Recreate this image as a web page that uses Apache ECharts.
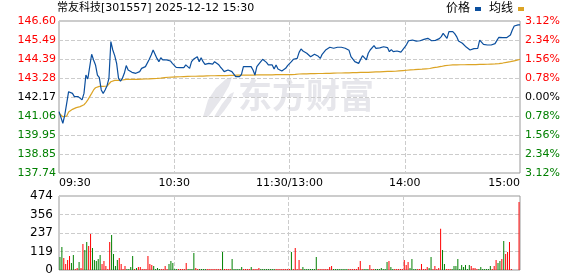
<!DOCTYPE html>
<html><head><meta charset="utf-8">
<script src="https://cdn.jsdelivr.net/npm/echarts@6/dist/echarts.min.js"></script>
<style>html,body{margin:0;padding:0;background:#fff}#c{width:578px;height:276px}</style>
</head><body><div id="c"></div>
<script>
const titleText = '常友科技[301557] 2025-12-12 15:30';
const xTickLabels = ['09:30', '10:30', '11:30/13:00', '14:00', '15:00'];
const priceTicks = [137.74, 138.85, 139.95, 141.06, 142.17, 143.28, 144.39, 145.49, 146.60];
const pctTicks = [-3.12, -2.34, -1.56, -0.78, 0.00, 0.78, 1.56, 2.34, 3.12];
const volTickMax = 474;

const price = [
141.32,141.41,140.64,141.12,141.80,142.48,142.58,142.38,142.19,142.19,
142.19,142.29,142.00,142.38,143.45,143.22,143.94,144.66,144.33,144.04,
143.45,143.30,142.58,142.38,142.58,142.83,143.26,145.40,144.91,144.58,
144.13,143.26,143.10,143.26,143.55,144.00,143.74,143.84,143.61,143.55,
143.55,143.55,143.65,143.84,143.88,143.94,144.04,144.37,144.62,144.91,
144.91,144.42,144.23,144.46,144.33,144.42,144.33,144.37,144.27,144.13,
144.04,143.90,143.88,143.88,143.88,143.88,144.04,144.07,143.84,144.23,
144.37,144.42,144.52,144.23,144.46,144.23,144.07,144.11,144.13,144.23,
144.09,144.23,144.31,144.07,143.92,143.80,143.65,143.61,143.74,143.80,
143.65,143.55,143.36,143.36,143.36,143.49,143.94,143.98,143.94,144.00,
143.94,143.74,143.45,143.94,144.09,144.19,144.37,144.37,144.19,144.04,
144.13,144.04,143.80,144.04,143.80,143.69,143.69,143.69,143.84,144.00,
144.09,
144.23,144.37,144.39,144.42,144.77,144.97,144.85,144.85,144.72,144.72,
144.52,144.62,144.66,144.60,144.54,144.42,144.66,144.77,144.93,145.01,
145.07,145.14,145.01,145.05,145.07,145.03,145.07,145.07,145.01,145.01,
144.89,144.52,144.48,144.23,144.13,144.13,144.23,144.58,144.52,144.33,
144.72,144.91,144.85,145.16,145.01,144.99,145.03,145.01,145.10,145.01,
145.05,144.81,144.93,144.81,144.85,144.85,144.81,144.79,144.93,145.07,
145.24,145.45,145.53,145.49,145.49,145.43,145.40,145.45,145.49,145.53,
145.53,145.59,145.55,145.45,145.38,145.47,145.53,145.57,145.69,145.88,
145.82,145.59,145.98,146.02,145.98,145.86,145.69,145.43,145.36,145.30,
145.20,145.08,144.99,144.91,144.89,144.99,145.01,145.01,145.49,145.43,
145.24,145.20,145.20,145.20,145.20,145.20,145.28,145.47,145.65,145.57,
145.63,145.55,145.63,145.63,145.78,146.08,146.31,146.37,146.37,146.37
];

const avgPrice = [
141.22,141.16,141.02,141.00,141.06,141.30,141.38,141.45,141.51,141.55,
141.59,141.61,141.65,141.72,141.84,142.00,142.19,142.38,142.58,142.71,
142.77,142.79,142.79,142.79,142.79,142.81,142.91,143.06,143.12,143.14,
143.14,143.14,143.16,143.16,143.18,143.20,143.20,143.20,143.20,143.20,
143.20,143.20,143.21,143.21,143.22,143.22,143.22,143.23,143.23,143.24,
143.24,143.25,143.26,143.27,143.28,143.30,143.31,143.32,143.33,143.33,
143.34,143.34,143.35,143.35,143.36,143.36,143.36,143.37,143.37,143.38,
143.38,143.38,143.38,143.39,143.39,143.39,143.40,143.40,143.40,143.41,
143.41,143.41,143.41,143.42,143.42,143.42,143.42,143.42,143.43,143.43,
143.43,143.43,143.44,143.44,143.44,143.45,143.45,143.45,143.45,143.45,
143.45,143.45,143.45,143.46,143.46,143.46,143.46,143.46,143.46,143.46,
143.46,143.46,143.47,143.47,143.47,143.47,143.47,143.47,143.47,143.47,
143.47,
143.48,143.49,143.49,143.50,143.51,143.51,143.52,143.52,143.52,143.53,
143.53,143.53,143.53,143.54,143.54,143.54,143.54,143.55,143.55,143.55,
143.55,143.56,143.56,143.56,143.57,143.57,143.57,143.57,143.58,143.58,
143.58,143.58,143.59,143.59,143.59,143.59,143.60,143.60,143.60,143.61,
143.61,143.61,143.62,143.62,143.63,143.63,143.64,143.64,143.65,143.65,
143.66,143.66,143.66,143.67,143.67,143.68,143.69,143.70,143.71,143.72,
143.73,143.74,143.75,143.75,143.76,143.77,143.78,143.79,143.79,143.80,
143.81,143.82,143.83,143.85,143.88,143.89,143.91,143.93,143.95,143.98,
144.00,144.01,144.02,144.03,144.04,144.04,144.04,144.05,144.05,144.05,
144.05,144.05,144.06,144.06,144.06,144.06,144.06,144.06,144.07,144.07,
144.07,144.07,144.08,144.08,144.09,144.09,144.10,144.11,144.12,144.13,
144.15,144.17,144.19,144.20,144.23,144.25,144.28,144.30,144.33,144.37
];

const volume = [
83,147,77,38,64,90,45,96,6,13,
51,13,167,128,179,154,231,141,64,58,
70,96,38,58,26,6,179,224,102,26,
64,77,38,6,26,6,6,19,90,6,
13,19,19,6,6,6,90,38,32,26,
6,13,6,6,6,26,6,38,58,45,
6,6,6,6,6,6,45,6,6,6,
109,13,6,6,6,6,6,6,6,6,
6,6,6,6,6,115,6,6,6,6,
70,6,6,6,6,19,6,6,6,6,
19,6,6,6,13,6,6,6,6,6,
6,6,6,6,6,6,6,6,6,6,
6,
115,6,141,6,64,6,19,6,6,6,
6,6,6,83,6,6,6,6,6,6,
19,26,6,6,6,6,6,6,6,6,
6,6,6,6,6,19,58,6,6,6,
6,32,6,6,6,6,6,13,6,6,
51,58,19,6,6,6,6,6,6,64,
32,51,13,70,6,6,6,6,38,6,
6,19,13,83,6,26,6,13,265,128,
38,6,6,6,6,26,26,70,6,32,
19,32,6,32,26,13,13,6,6,19,
6,6,6,6,26,6,26,64,45,58,
70,186,102,115,179,6,0,0,0,435
];

// 1 = up (red), -1 = down (green)
const volDir = [
-1,-1,1,1,1,1,-1,-1,1,1,
-1,1,1,-1,-1,1,1,-1,-1,-1,
-1,-1,1,1,1,1,1,-1,-1,-1,
-1,1,1,1,1,-1,-1,-1,-1,1,
-1,1,1,1,1,1,1,1,1,-1,
-1,-1,-1,1,1,1,1,-1,-1,-1,
-1,-1,1,1,1,1,1,-1,-1,-1,
-1,1,1,-1,-1,-1,-1,1,1,1,
1,1,1,1,1,-1,1,1,1,1,
-1,-1,-1,-1,-1,-1,1,1,1,1,
-1,1,1,1,1,-1,-1,-1,-1,-1,
-1,-1,-1,1,1,1,1,1,1,1,
1,
-1,1,1,1,1,1,-1,-1,-1,-1,
-1,-1,-1,-1,1,1,1,1,1,1,
1,1,-1,-1,-1,-1,-1,-1,-1,-1,
1,1,1,1,1,1,1,1,-1,-1,
-1,1,1,1,-1,-1,-1,-1,-1,-1,
-1,1,-1,-1,1,1,1,1,1,1,
1,1,-1,-1,-1,-1,1,1,1,1,
1,1,-1,-1,1,1,1,1,1,-1,
-1,1,1,1,-1,-1,-1,-1,-1,-1,
-1,-1,-1,-1,1,1,1,1,-1,-1,
-1,-1,-1,-1,-1,1,1,1,-1,-1,
1,-1,1,1,1,1,1,1,1,1
];

// minute categories 09:30..11:30, 13:01..15:00
const times = [];
function pad(n){return (n<10?'0':'')+n;}
for (let m = 9*60+30; m <= 11*60+30; m++) times.push(pad(Math.floor(m/60))+':'+pad(m%60));
for (let m = 13*60+1; m <= 15*60; m++) times.push(pad(Math.floor(m/60))+':'+pad(m%60));

const FONT = '"DejaVu Sans", "Noto Sans CJK SC", sans-serif';
const RED = '#ff0000', GREEN = '#008000';
const dash = {type: 'dashed', color: '#cccccc', width: 1};
const vSplit = i => i % 60 === 0 && i > 0 && i < times.length - 1;

const chart = echarts.init(document.getElementById('c'), null, {renderer: 'canvas'});
chart.setOption({
  animation: false,
  textStyle: {fontFamily: FONT},
  title: {text: titleText, left: 57, top: 3, padding: 0,
    textStyle: {fontSize: 11, fontWeight: 'normal', color: '#000', fontFamily: FONT}},
  legend: {data: ['价格', '均线'], right: 54, top: 3, padding: 0, align: 'right',
    icon: 'rect', itemWidth: 6, itemHeight: 4, itemGap: 8,
    textStyle: {fontSize: 12, color: '#000', fontFamily: FONT}},
  graphic: [
    {type: 'polygon', z: 0, silent: true,
      shape: {points: [[203,117],[208,100],[216,88],[226,79],[232,77],[229,86],[222,98],[214,109],[208,117]]},
      style: {fill: '#e6e6eb'}},
    {type: 'polygon', z: 0, silent: true,
      shape: {points: [[214,117],[222,104],[230,94],[234,92],[231,101],[224,111],[219,117]]},
      style: {fill: '#e6e6eb'}},
    {type: 'text', z: 0, silent: true, left: 238, top: 78,
      style: {text: '东方财富', fontSize: 34, fontWeight: 'bold', fill: '#e6e6eb',
        fontFamily: '"Noto Sans CJK SC", sans-serif'}}
  ],
  grid: [
    {left: 59, right: 58, top: 21, height: 152, show: true, borderColor: '#999', borderWidth: 1, backgroundColor: 'transparent'},
    {left: 59, right: 58, top: 196, height: 74, show: true, borderColor: '#999', borderWidth: 1, backgroundColor: 'transparent'}
  ],
  xAxis: [
    {type: 'category', gridIndex: 0, data: times, boundaryGap: false,
      axisLine: {show: false}, axisTick: {show: false},
      axisLabel: {interval: i => i % 60 === 0, formatter: (v, i) => xTickLabels[i / 60],
        alignMinLabel: 'left', alignMaxLabel: 'right',
        color: '#000', fontSize: 11, margin: 5, fontFamily: FONT},
      splitLine: {show: true, interval: vSplit, lineStyle: dash}},
    {type: 'category', gridIndex: 1, data: times, boundaryGap: true,
      axisLine: {show: false}, axisTick: {show: false}, axisLabel: {show: false},
      splitLine: {show: true, interval: vSplit, lineStyle: dash}}
  ],
  yAxis: [
    {type: 'value', gridIndex: 0, position: 'left', min: -4, max: 4, interval: 1,
      axisLine: {show: false}, axisTick: {show: false},
      axisLabel: {formatter: v => priceTicks[Math.round(v) + 4].toFixed(2), margin: 3,
        fontSize: 11, fontFamily: FONT,
        color: v => { v = Math.round(Number(v)); return v > 0 ? RED : (v < 0 ? GREEN : '#000'); }},
      splitLine: {show: true, lineStyle: dash}},
    {type: 'value', gridIndex: 0, position: 'right', min: -4, max: 4, interval: 1,
      axisLine: {show: false}, axisTick: {show: false},
      axisLabel: {formatter: v => Math.abs(pctTicks[Math.round(v) + 4]).toFixed(2) + '%', margin: 5,
        fontSize: 11, fontFamily: FONT,
        color: v => { v = Math.round(Number(v)); return v > 0 ? RED : (v < 0 ? GREEN : '#000'); }},
      splitLine: {show: false}},
    {type: 'value', gridIndex: 0, min: priceTicks[0], max: priceTicks[priceTicks.length - 1], show: false},
    {type: 'value', gridIndex: 1, min: 0, max: volTickMax, interval: volTickMax / 4,
      axisLine: {show: false}, axisTick: {show: false},
      axisLabel: {formatter: v => String(Math.round(v)), margin: 6, fontSize: 12, color: '#000', fontFamily: FONT},
      splitLine: {show: true, lineStyle: dash}}
  ],
  series: [
    {name: '价格', type: 'line', xAxisIndex: 0, yAxisIndex: 2, data: price, showSymbol: false,
      color: '#0b4f9e', lineStyle: {width: 1.2, color: '#0b4f9e'}, z: 3},
    {name: '均线', type: 'line', xAxisIndex: 0, yAxisIndex: 2, data: avgPrice, showSymbol: false,
      color: '#dca425', lineStyle: {width: 1.2, color: '#dca425'}, z: 2},
    {name: '成交量', type: 'bar', xAxisIndex: 1, yAxisIndex: 3, barWidth: 1,
      data: volume.map((v, i) => ({value: v, itemStyle: {color: volDir[i] > 0 ? RED : GREEN}}))}
  ]
});
</script>
</body></html>
